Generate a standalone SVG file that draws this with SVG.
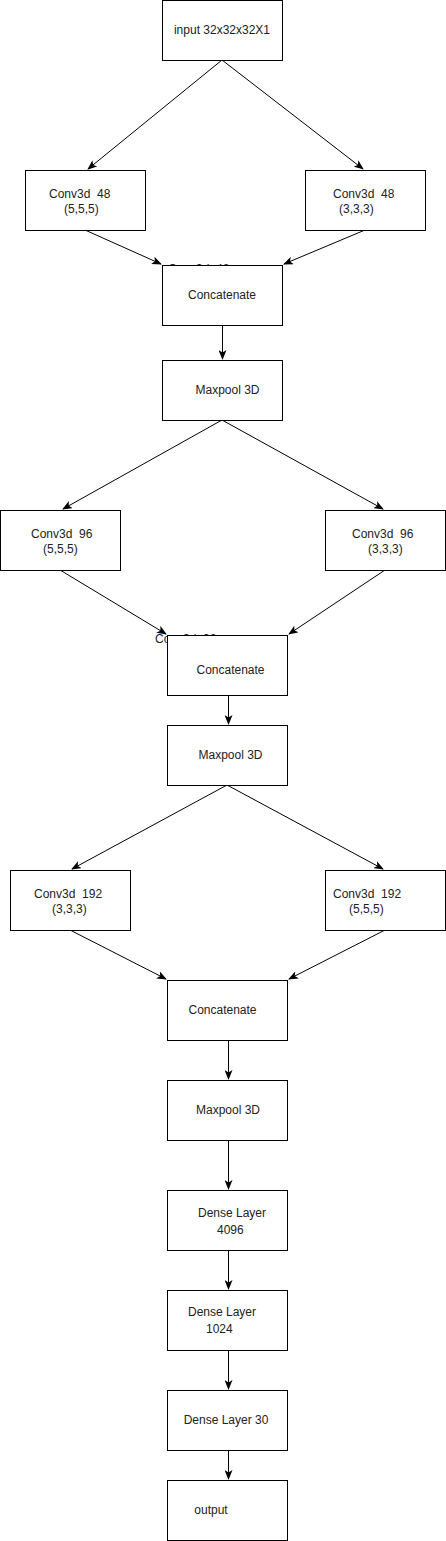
<svg xmlns="http://www.w3.org/2000/svg" width="446" height="1541" viewBox="0 0 446 1541">
<style>
.box{fill:#fff;stroke:#000;stroke-width:1}
.t{font-family:"Liberation Sans",Arial,sans-serif;font-size:12px;fill:#222;text-anchor:middle}
.ts{font-family:"Liberation Sans",Arial,sans-serif;font-size:12px;fill:#222;text-anchor:start}
.e{fill:none;stroke:#000;stroke-width:1}
</style>
<defs>
<marker id="ah" viewBox="0 0 10 8" refX="9" refY="4" markerWidth="10" markerHeight="8" markerUnits="userSpaceOnUse" orient="auto">
<path d="M0,0 L10,4 L0,8 L2.5,4 Z" fill="#000"/>
</marker>
</defs>
<rect width="446" height="1541" fill="#fff"/>
<g id="connectors">
<line class="e" x1="222" y1="60" x2="88" y2="169" marker-end="url(#ah)"/>
<line class="e" x1="222" y1="60" x2="363" y2="169" marker-end="url(#ah)"/>
<line class="e" x1="85" y1="230" x2="161" y2="264" marker-end="url(#ah)"/>
<line class="e" x1="365" y1="230" x2="284" y2="264" marker-end="url(#ah)"/>
<line class="e" x1="222.5" y1="325" x2="222.5" y2="359" marker-end="url(#ah)"/>
<line class="e" x1="222" y1="420" x2="63" y2="509" marker-end="url(#ah)"/>
<line class="e" x1="222" y1="420" x2="383" y2="509" marker-end="url(#ah)"/>
<line class="e" x1="60" y1="570" x2="166" y2="634" marker-end="url(#ah)"/>
<line class="e" x1="385" y1="570" x2="289" y2="634" marker-end="url(#ah)"/>
<line class="e" x1="228.5" y1="695" x2="228.5" y2="724" marker-end="url(#ah)"/>
<line class="e" x1="227" y1="785" x2="72" y2="869" marker-end="url(#ah)"/>
<line class="e" x1="227" y1="785" x2="383" y2="869" marker-end="url(#ah)"/>
<line class="e" x1="70" y1="930" x2="166" y2="979" marker-end="url(#ah)"/>
<line class="e" x1="385" y1="930" x2="289" y2="979" marker-end="url(#ah)"/>
<line class="e" x1="228.5" y1="1040" x2="228.5" y2="1079" marker-end="url(#ah)"/>
<line class="e" x1="228.5" y1="1140" x2="228.5" y2="1189" marker-end="url(#ah)"/>
<line class="e" x1="228.5" y1="1250" x2="228.5" y2="1289" marker-end="url(#ah)"/>
<line class="e" x1="228.5" y1="1350" x2="228.5" y2="1389" marker-end="url(#ah)"/>
<line class="e" x1="228.5" y1="1450" x2="228.5" y2="1479" marker-end="url(#ah)"/>
</g>
<g id="input"><rect class="box" x="162.5" y="0.5" width="120" height="60"/><text class="t" x="222" y="34">input 32x32x32X1</text></g>
<g id="conv48a"><rect class="box" x="25.5" y="170.5" width="120" height="60"/><text class="ts" x="49" y="198">Conv3d&#160; 48</text><text class="ts" x="64" y="213">(5,5,5)</text></g>
<g id="conv48b"><rect class="box" x="305.5" y="170.5" width="120" height="60"/><text class="ts" x="333" y="198">Conv3d&#160; 48</text><text class="ts" x="339" y="213">(3,3,3)</text></g>
<g id="hidden1"><text class="ts" x="168" y="273">Conv3d&#160; 48</text></g>
<g id="concat1"><rect class="box" x="162.5" y="265.5" width="120" height="60"/><text class="t" x="222" y="299">Concatenate</text></g>
<g id="maxpool1"><rect class="box" x="162.5" y="360.5" width="120" height="60"/><text class="t" x="227.5" y="394">Maxpool 3D</text></g>
<g id="conv96a"><rect class="box" x="0.5" y="510.5" width="120" height="60"/><text class="ts" x="31" y="538">Conv3d&#160; 96</text><text class="ts" x="43" y="553">(5,5,5)</text></g>
<g id="conv96b"><rect class="box" x="325.5" y="510.5" width="120" height="60"/><text class="ts" x="352" y="538">Conv3d&#160; 96</text><text class="ts" x="368" y="553">(3,3,3)</text></g>
<g id="hidden2"><text class="ts" x="155" y="643">Conv3d&#160; 96</text></g>
<g id="concat2"><rect class="box" x="167.5" y="635.5" width="120" height="60"/><text class="t" x="230.5" y="674">Concatenate</text></g>
<g id="maxpool2"><rect class="box" x="167.5" y="725.5" width="120" height="60"/><text class="t" x="230.5" y="759">Maxpool 3D</text></g>
<g id="conv192a"><rect class="box" x="10.5" y="870.5" width="120" height="60"/><text class="ts" x="34" y="898">Conv3d&#160; 192</text><text class="ts" x="52" y="913">(3,3,3)</text></g>
<g id="conv192b"><rect class="box" x="325.5" y="870.5" width="120" height="60"/><text class="ts" x="333" y="898">Conv3d&#160; 192</text><text class="ts" x="349" y="913">(5,5,5)</text></g>
<g id="concat3"><rect class="box" x="167.5" y="980.5" width="120" height="60"/><text class="t" x="222.5" y="1014">Concatenate</text></g>
<g id="maxpool3"><rect class="box" x="167.5" y="1080.5" width="120" height="60"/><text class="t" x="228" y="1114">Maxpool 3D</text></g>
<g id="dense4096"><rect class="box" x="167.5" y="1190.5" width="120" height="60"/><text class="ts" x="198" y="1217">Dense Layer</text><text class="ts" x="217" y="1234">4096</text></g>
<g id="dense1024"><rect class="box" x="167.5" y="1290.5" width="120" height="60"/><text class="ts" x="188" y="1316">Dense Layer</text><text class="ts" x="206" y="1333">1024</text></g>
<g id="dense30"><rect class="box" x="167.5" y="1390.5" width="120" height="60"/><text class="t" x="226" y="1424">Dense Layer 30</text></g>
<g id="output"><rect class="box" x="167.5" y="1480.5" width="120" height="60"/><text class="t" x="211" y="1514">output</text></g>
</svg>
